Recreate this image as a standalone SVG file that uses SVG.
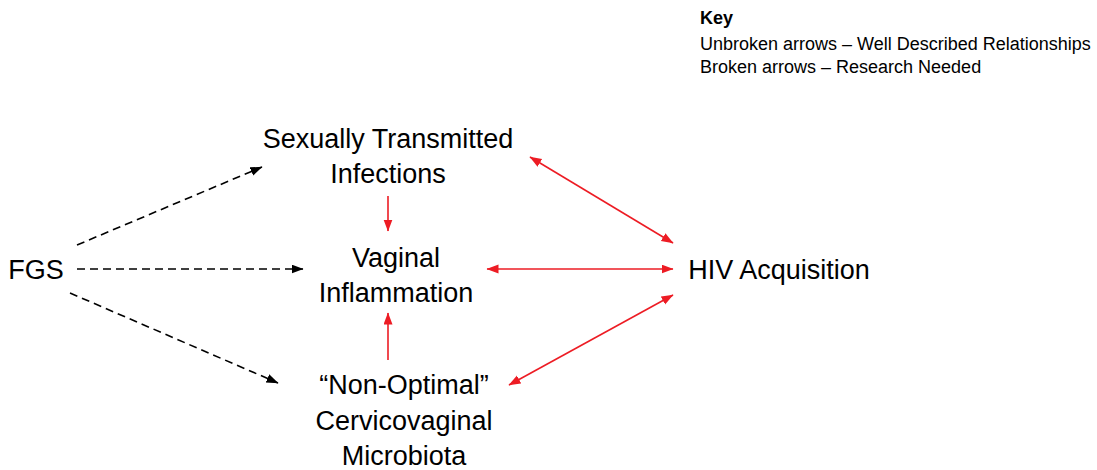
<svg xmlns="http://www.w3.org/2000/svg" width="1097" height="470" viewBox="0 0 1097 470">
  <defs>
    <style>
      .lbl { font-family: "Liberation Sans", Arial, sans-serif; font-size: 27px; fill: #000; text-anchor: middle; }
      .key { font-family: "Liberation Sans", Arial, sans-serif; font-size: 18px; fill: #000; }
      .keyhead { font-weight: bold; }
      .dash { stroke: #000; stroke-width: 1.6; stroke-dasharray: 8 5; fill: none; }
      .red { stroke: #ED1C24; stroke-width: 1.6; fill: none; }
    </style>
    <marker id="headBlack" markerUnits="userSpaceOnUse" markerWidth="13" markerHeight="10" refX="11.5" refY="4.5" orient="auto-start-reverse">
      <path d="M0,0 L12,4.5 L0,9 Z" fill="#000"/>
    </marker>
    <marker id="headRed" markerUnits="userSpaceOnUse" markerWidth="13" markerHeight="10" refX="11.5" refY="4.5" orient="auto-start-reverse">
      <path d="M0,0 L12,4.5 L0,9 Z" fill="#ED1C24"/>
    </marker>
  </defs>

  <rect width="1097" height="470" fill="#fff"/>

  <!-- legend -->
  <g id="key">
    <text class="key keyhead" x="700" y="24">Key</text>
    <text class="key" x="700" y="50">Unbroken arrows – Well Described Relationships</text>
    <text class="key" x="700" y="73">Broken arrows – Research Needed</text>
  </g>

  <!-- nodes -->
  <g id="fgs">
    <text class="lbl" x="36" y="279">FGS</text>
  </g>
  <g id="sti">
    <text class="lbl" x="388" y="148">Sexually Transmitted</text>
    <text class="lbl" x="388" y="183">Infections</text>
  </g>
  <g id="inflammation">
    <text class="lbl" x="396" y="267">Vaginal</text>
    <text class="lbl" x="396" y="302">Inflammation</text>
  </g>
  <g id="microbiota">
    <text class="lbl" x="404" y="394">“Non-Optimal”</text>
    <text class="lbl" x="404" y="430">Cervicovaginal</text>
    <text class="lbl" x="404" y="465">Microbiota</text>
  </g>
  <g id="hiv">
    <text class="lbl" x="779" y="279">HIV Acquisition</text>
  </g>

  <!-- connectors -->
  <g id="connectors">
    <line class="dash" x1="77" y1="245" x2="262" y2="167" marker-end="url(#headBlack)"/>
    <line class="dash" x1="77" y1="269" x2="303" y2="269" marker-end="url(#headBlack)"/>
    <line class="dash" x1="70" y1="293" x2="278" y2="383" marker-end="url(#headBlack)"/>

    <line class="red" x1="388" y1="196" x2="388" y2="231" marker-end="url(#headRed)"/>
    <line class="red" x1="388" y1="360" x2="388" y2="313" marker-end="url(#headRed)"/>

    <line class="red" x1="530" y1="157" x2="673" y2="243" marker-start="url(#headRed)" marker-end="url(#headRed)"/>
    <line class="red" x1="487" y1="269" x2="673" y2="269" marker-start="url(#headRed)" marker-end="url(#headRed)"/>
    <line class="red" x1="509" y1="385" x2="673" y2="295" marker-start="url(#headRed)" marker-end="url(#headRed)"/>
  </g>
</svg>
